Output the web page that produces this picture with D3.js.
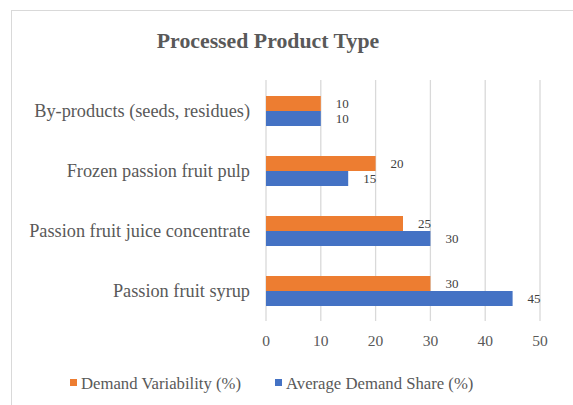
<!DOCTYPE html>
<html><head><meta charset="utf-8">
<script src="https://cdn.jsdelivr.net/npm/d3@7"></script>
<style>body{margin:0;background:#fff;}svg{display:block;}</style>
</head><body>
<script>
const categories = ["By-products (seeds, residues)", "Frozen passion fruit pulp", "Passion fruit juice concentrate", "Passion fruit syrup"];
const demandVariability = [10, 20, 25, 30];
const averageDemandShare = [10, 15, 30, 45];
const xTicks = [0, 10, 20, 30, 40, 50];
const seriesNames = ["Demand Variability (%)", "Average Demand Share (%)"];
const colors = ["#ED7D31", "#4472C4"];

const W = 573, H = 405;
const svg = d3.select("body").append("svg").attr("width", W).attr("height", H);
const font = "'Liberation Serif','Times New Roman',serif";

// frame
svg.append("rect").attr("x", 11.5).attr("y", 10.5).attr("width", 600).attr("height", 420)
  .attr("fill", "#fff").attr("stroke", "#d9d9d9").attr("stroke-width", 1);

svg.append("text").attr("x", 268).attr("y", 48).attr("text-anchor", "middle")
  .attr("font-family", font).attr("font-weight", "bold").attr("font-size", 21.8)
  .attr("fill", "#595959").text("Processed Product Type");

const x = d3.scaleLinear().domain([0, 50]).range([266, 540]);
const y = d3.scaleBand().domain(categories).range([81, 321]).paddingInner(0.5).paddingOuter(0.25);

// gridlines
svg.append("g").selectAll("line").data(xTicks).join("line")
  .attr("x1", d => x(d)).attr("x2", d => x(d)).attr("y1", 80).attr("y2", 321)
  .attr("stroke", "#d9d9d9").attr("stroke-width", 1.3);

const series = [demandVariability, averageDemandShare];
const bh = y.bandwidth() / 2;
series.forEach((vals, si) => {
  const g = svg.append("g");
  g.selectAll("rect").data(categories).join("rect")
    .attr("x", x(0)).attr("y", c => y(c) + si * bh)
    .attr("width", (c, i) => x(vals[i]) - x(0)).attr("height", bh)
    .attr("fill", colors[si]);
  g.selectAll("text").data(categories).join("text")
    .attr("x", (c, i) => x(vals[i]) + 15).attr("y", c => y(c) + si * bh + bh / 2)
    .attr("dy", "0.35em").attr("font-family", font).attr("font-size", 13)
    .attr("fill", "#404040").text((c, i) => vals[i]);
});

// category labels
svg.append("g").selectAll("text").data(categories).join("text")
  .attr("x", 250).attr("y", c => y(c) + y.bandwidth() / 2).attr("dy", "0.35em")
  .attr("text-anchor", "end").attr("font-family", font).attr("font-size", 18.3)
  .attr("fill", "#595959").text(d => d);

// x tick labels
svg.append("g").selectAll("text").data(xTicks).join("text")
  .attr("x", d => x(d)).attr("y", 341).attr("dy", "0.35em").attr("text-anchor", "middle")
  .attr("font-family", font).attr("font-size", 15.5).attr("fill", "#595959").text(d => d);

// legend
const leg = [{x: 70, tx: 81}, {x: 275, tx: 286}];
leg.forEach((l, i) => {
  svg.append("rect").attr("x", l.x).attr("y", 379).attr("width", 7).attr("height", 7).attr("fill", colors[i]);
  svg.append("text").attr("x", l.tx).attr("y", 383).attr("dy", "0.35em")
    .attr("font-family", font).attr("font-size", 16.7).attr("fill", "#595959").text(seriesNames[i]);
});
</script>
</body></html>
